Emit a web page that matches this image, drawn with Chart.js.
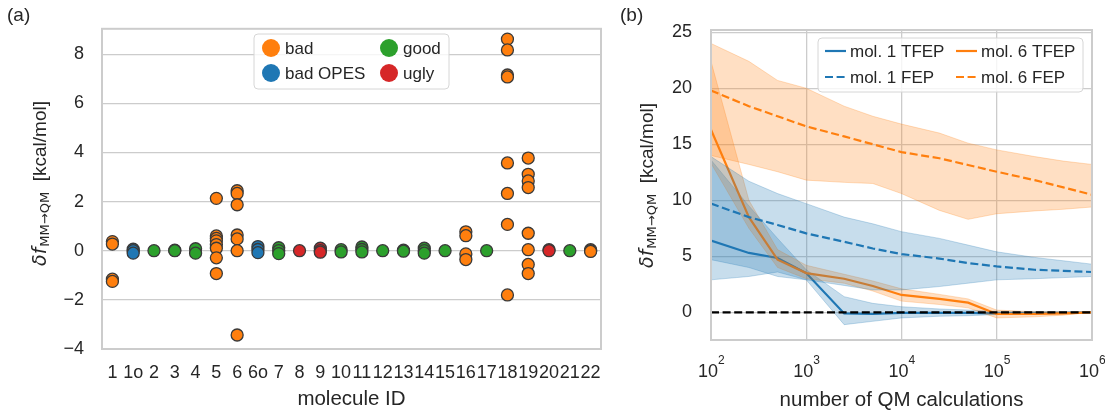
<!DOCTYPE html>
<html>
<head>
<meta charset="utf-8">
<script src="https://cdn.jsdelivr.net/npm/chart.js@4/dist/chart.umd.min.js"></script>
<style>
html, body { margin: 0; padding: 0; background: #fff; }
#wrap { position: relative; width: 1105px; height: 410px; }
#left { position: absolute; left: 0; top: 0; }
#right { position: absolute; left: 615px; top: 0; }
</style>
</head>
<body>
<div id="wrap">
  <canvas id="left" width="615" height="410"></canvas>
  <canvas id="right" width="490" height="410"></canvas>
</div>
<script>
// ---- panel (a): values per molecule ----
const moleculeIds = ['1', '1o', '2', '3', '4', '5', '6', '6o', '7', '8', '9', '10', '11', '12',
    '13', '14', '15', '16', '17', '18', '19', '20', '21', '22'];
const badPts = [
    ['1', 0.37], ['1', 0.27], ['1', -1.16], ['1', -1.25],
    ['5', 2.13], ['5', 0.6], ['5', 0.5], ['5', 0.4], ['5', 0.25], ['5', 0.1], ['5', -0.29], ['5', -0.93],
    ['6', 2.44], ['6', 2.33], ['6', 1.87], ['6', 0.64], ['6', 0.48], ['6', 0], ['6', -3.43],
    ['16', 0.77], ['16', 0.61], ['16', -0.13], ['16', -0.36],
    ['18', 8.61], ['18', 8.17], ['18', 7.15], ['18', 7.07], ['18', 3.57], ['18', 2.33], ['18', 1.07], ['18', -1.8],
    ['19', 3.77], ['19', 3.11], ['19', 2.84], ['19', 2.57], ['19', 0.71], ['19', 0.04], ['19', -0.56], ['19', -0.93],
    ['22', 0.04], ['22', 0], ['22', -0.03]
];
const badOpesPts = [['1o', 0.06], ['1o', 0], ['1o', -0.1], ['6o', 0.17], ['6o', 0.05], ['6o', -0.08]];
const goodPts = [
    ['2', 0], ['3', 0.02], ['3', 0], ['4', 0.08], ['4', -0.1], ['7', 0.12], ['7', 0], ['7', -0.12],
    ['10', 0.04], ['10', -0.05], ['11', 0.15], ['11', 0.05], ['11', -0.05], ['12', 0],
    ['13', 0.02], ['13', -0.02], ['14', 0.1], ['14', 0], ['14', -0.1], ['15', 0], ['17', 0], ['21', 0]
];
const uglyPts = [['8', 0], ['9', 0.1], ['9', 0], ['9', -0.06], ['20', 0.04], ['20', 0]];
const leftTicks = [-4, -2, 0, 2, 4, 6, 8];

// ---- panel (b): convergence vs number of QM calculations ----
const xCalls = [100, 250, 500, 1000, 2500, 5000, 10000, 25000, 50000, 100000, 250000, 500000, 1000000];
const mol1Tfep   = [6.4, 5.3, 4.85, 3.5, -0.1, -0.15, -0.05, -0.05, -0.05, -0.1, -0.05, -0.05, 0];
const mol1TfepLo = [4.7, 4.0, 3.2, 2.9, -1.1, -0.8, -0.5, -0.35, -0.3, -0.2, -0.15, -0.1, 0];
const mol1TfepHi = [13.6, 9.5, 6.6, 3.8, 1.4, 0.8, 0.5, 0.3, 0.2, 0.1, 0.05, 0.05, 0];
const mol6Tfep   = [16.3, 8.5, 4.7, 3.5, 3.0, 2.35, 1.55, 1.2, 0.86, -0.15, -0.15, -0.1, 0];
const mol6TfepLo = [13.3, 7.5, 4.0, 3.0, 2.6, 1.9, 1.0, 0.7, 0.4, -0.5, -0.4, -0.25, 0];
const mol6TfepHi = [22.4, 10.0, 5.6, 4.2, 3.4, 2.8, 2.1, 1.6, 1.2, 0.2, 0.05, 0.05, 0];
const mol1Fep    = [9.7, 8.5, 7.8, 7.05, 6.3, 5.7, 5.2, 4.8, 4.4, 4.1, 3.8, 3.7, 3.6];
const mol1FepLo  = [2.9, 3.2, 3.6, 2.9, 2.4, 2.0, 2.0, 2.3, 2.6, 2.9, 3.0, 3.1, 3.2];
const mol1FepHi  = [13.9, 11.7, 10.6, 9.7, 8.5, 7.9, 7.2, 6.6, 6.0, 5.4, 4.9, 4.6, 4.3];
const mol6Fep    = [19.8, 18.4, 17.5, 16.6, 15.7, 15.0, 14.3, 13.75, 13.15, 12.55, 11.8, 11.15, 10.5];
const mol6FepLo  = [14.0, 13.2, 12.55, 11.8, 11.6, 11.5, 10.6, 9.1, 8.3, 8.8, 9.05, 9.2, 9.4];
const mol6FepHi  = [24.0, 22.4, 20.7, 20.0, 18.4, 17.5, 16.8, 16.0, 15.1, 14.5, 13.9, 13.5, 13.2];
const rightTicks = [0, 5, 10, 15, 20, 25];
const logTicks = [100, 1000, 10000, 100000, 1000000];

const ORANGE = '#ff7f0e', BLUE = '#1f77b4', GREEN = '#2ca02c', RED = '#d62728';
const ORANGE_BAND = 'rgba(255,127,14,0.25)', BLUE_BAND = 'rgba(31,119,180,0.25)';
const TXT = '#262626', GRID = '#cccccc';
const SANS = '"Liberation Sans", Arial, sans-serif';

function drawYTitle(ctx, cx, cy) {
    const parts = [
        ['δf', 'italic 19px "DejaVu Sans"', 0],
        ['MM→QM', '13px "DejaVu Sans"', 5],
        ['  [kcal/mol]', '19px ' + SANS, 0]
    ];
    ctx.save();
    ctx.translate(cx, cy);
    ctx.rotate(-Math.PI / 2);
    ctx.fillStyle = TXT;
    ctx.textBaseline = 'middle';
    let total = 0;
    parts.forEach(p => { ctx.font = p[1]; total += ctx.measureText(p[0]).width; });
    let x = -total / 2;
    parts.forEach(p => {
        ctx.font = p[1];
        ctx.fillText(p[0], x, p[2]);
        x += ctx.measureText(p[0]).width + (p[0] === 'δf' ? 1 : 0);
    });
    ctx.restore();
}

function legendBox(ctx, x, y, w, h) {
    ctx.save();
    ctx.beginPath();
    ctx.roundRect(x, y, w, h, 4);
    ctx.fillStyle = 'rgba(255,255,255,0.8)';
    ctx.fill();
    ctx.strokeStyle = '#d6d6d6';
    ctx.lineWidth = 1;
    ctx.stroke();
    ctx.restore();
}

function frame(chart) {
    const a = chart.chartArea, ctx = chart.ctx;
    ctx.save();
    ctx.strokeStyle = GRID;
    ctx.lineWidth = 2;
    ctx.strokeRect(a.left, a.top, a.right - a.left, a.bottom - a.top);
    ctx.restore();
}

const leftDecor = {
    id: 'leftDecor',
    afterDatasetsDraw(chart) {
        const ctx = chart.ctx;
        frame(chart);
        ctx.save();
        ctx.fillStyle = TXT;
        ctx.font = '19px ' + SANS;
        ctx.textBaseline = 'middle';
        ctx.fillText('(a)', 7, 16);
        ctx.textAlign = 'center';
        ctx.font = '20.5px ' + SANS;
        ctx.fillText('molecule ID', (chart.chartArea.left + chart.chartArea.right) / 2, 399);
        ctx.restore();
        drawYTitle(ctx, 41, 184);
        // legend
        legendBox(ctx, 254, 34, 195, 55);
        const items = [['bad', ORANGE, 271, 48], ['bad OPES', BLUE, 271, 73], ['good', GREEN, 389, 48], ['ugly', RED, 389, 73]];
        ctx.save();
        ctx.font = '17px ' + SANS;
        ctx.textBaseline = 'middle';
        items.forEach(it => {
            ctx.beginPath();
            ctx.arc(it[2], it[3], 9, 0, Math.PI * 2);
            ctx.fillStyle = it[1];
            ctx.fill();
            ctx.fillStyle = TXT;
            ctx.fillText(it[0], it[2] + 14, it[3] + 1);
        });
        ctx.restore();
    }
};

const rightDecor = {
    id: 'rightDecor',
    afterDatasetsDraw(chart) {
        const ctx = chart.ctx;
        frame(chart);
        const xs = chart.scales.x;
        ctx.save();
        ctx.fillStyle = TXT;
        ctx.textBaseline = 'middle';
        ctx.font = '19px ' + SANS;
        ctx.fillText('(b)', 5, 16);
        logTicks.forEach(v => {
            const px = xs.getPixelForValue(v);
            ctx.font = '18px ' + SANS;
            ctx.textAlign = 'center';
            ctx.fillText('10', px - 3, 372);
            ctx.font = '12px ' + SANS;
            ctx.textAlign = 'left';
            ctx.fillText(String(Math.round(Math.log10(v))), px + 7, 361);
        });
        ctx.font = '20.5px ' + SANS;
        ctx.textAlign = 'center';
        ctx.fillText('number of QM calculations', (chart.chartArea.left + chart.chartArea.right) / 2, 400);
        ctx.restore();
        drawYTitle(ctx, 33, 186);
        // legend
        legendBox(ctx, 203, 38, 265, 54);
        const items = [
            ['mol. 1 TFEP', BLUE, [], 210, 51], ['mol. 1 FEP', BLUE, [8, 3.6], 210, 77],
            ['mol. 6 TFEP', ORANGE, [], 341, 51], ['mol. 6 FEP', ORANGE, [8, 3.6], 341, 77]
        ];
        ctx.save();
        ctx.font = '17px ' + SANS;
        ctx.textBaseline = 'middle';
        items.forEach(it => {
            ctx.beginPath();
            ctx.setLineDash(it[2]);
            ctx.strokeStyle = it[1];
            ctx.lineWidth = 2.2;
            ctx.moveTo(it[3], it[4]);
            ctx.lineTo(it[3] + 21, it[4]);
            ctx.stroke();
            ctx.setLineDash([]);
            ctx.fillStyle = TXT;
            ctx.fillText(it[0], it[3] + 25, it[4] + 1);
        });
        ctx.restore();
    }
};

function pts(list) {
    return list.map(p => ({ x: p[0], y: p[1] }));
}
function scatterSet(label, list, color) {
    return {
        label, data: pts(list), showLine: false,
        pointRadius: 6, pointHoverRadius: 6, pointBorderWidth: 1.3,
        pointBorderColor: '#3a3a3a', pointBackgroundColor: color
    };
}

new Chart(document.getElementById('left'), {
    type: 'line',
    data: {
        labels: moleculeIds,
        datasets: [
            scatterSet('ugly', uglyPts, RED),
            scatterSet('good', goodPts, GREEN),
            scatterSet('bad OPES', badOpesPts, BLUE),
            scatterSet('bad', badPts, ORANGE)
        ]
    },
    options: {
        responsive: false,
        animation: false,
        layout: { padding: { top: 25, right: 14, bottom: 0, left: 0 } },
        plugins: { legend: { display: false }, tooltip: { enabled: false } },
        scales: {
            x: {
                type: 'category', offset: true,
                grid: { display: false, drawTicks: false },
                border: { display: false },
                ticks: { autoSkip: false, maxRotation: 0, minRotation: 0, padding: 13,
                    color: TXT, font: { family: SANS, size: 18 } },
                afterFit(s) { s.height = 61; }
            },
            y: {
                min: -4, max: 9.03,
                grid: { color: GRID, lineWidth: 1.2, drawTicks: false },
                border: { display: false },
                ticks: { padding: 18, color: TXT, font: { family: SANS, size: 18 },
                    callback: v => String(v).replace('-', '\u2212') },
                afterBuildTicks(s) { s.ticks = leftTicks.map(v => ({ value: v })); },
                afterFit(s) { s.width = 102; }
            }
        }
    },
    plugins: [leftDecor]
});

function xy(arr) {
    return xCalls.map((x, i) => ({ x, y: arr[i] }));
}
function bandPair(lo, hi, color) {
    return [
        { data: xy(lo), borderColor: color, borderWidth: 1, pointRadius: 0, fill: false },
        { data: xy(hi), borderColor: color, borderWidth: 1, pointRadius: 0, fill: '-1', backgroundColor: color }
    ];
}
function lineSet(arr, color, dash) {
    return { data: xy(arr), borderColor: color, borderWidth: 2.2, borderDash: dash, pointRadius: 0, fill: false };
}

// listed bottom to top
const rightSets = [
    ...bandPair(mol1TfepLo, mol1TfepHi, BLUE_BAND),
    lineSet(mol1Tfep, BLUE, []),
    ...bandPair(mol6TfepLo, mol6TfepHi, ORANGE_BAND),
    lineSet(mol6Tfep, ORANGE, []),
    ...bandPair(mol1FepLo, mol1FepHi, BLUE_BAND),
    lineSet(mol1Fep, BLUE, [8, 3.6]),
    ...bandPair(mol6FepLo, mol6FepHi, ORANGE_BAND),
    lineSet(mol6Fep, ORANGE, [8, 3.6]),
    { data: [{ x: xCalls[0], y: 0 }, { x: xCalls[xCalls.length - 1], y: 0 }],
      borderColor: '#000', borderWidth: 2.2, borderDash: [8, 3.6], pointRadius: 0, fill: false }
];
rightSets.forEach((d, i) => { d.order = rightSets.length - i; });

new Chart(document.getElementById('right'), {
    type: 'line',
    data: { datasets: rightSets },
    options: {
        responsive: false,
        animation: false,
        layout: { padding: { top: 30, right: 13, bottom: 0, left: 0 } },
        plugins: { legend: { display: false }, tooltip: { enabled: false } },
        scales: {
            x: {
                type: 'logarithmic', min: 100, max: 1000000,
                grid: { color: GRID, lineWidth: 1.3, drawTicks: false },
                border: { display: false },
                ticks: { display: false },
                afterBuildTicks(s) { s.ticks = logTicks.map(v => ({ value: v })); },
                afterFit(s) { s.height = 70; }
            },
            y: {
                min: -2.47, max: 25.2,
                grid: { color: GRID, lineWidth: 1.3, drawTicks: false },
                border: { display: false },
                ticks: { padding: 19, color: TXT, font: { family: SANS, size: 18 } },
                afterBuildTicks(s) { s.ticks = rightTicks.map(v => ({ value: v })); },
                afterFit(s) { s.width = 96; }
            }
        }
    },
    plugins: [rightDecor]
});
</script>
</body>
</html>
